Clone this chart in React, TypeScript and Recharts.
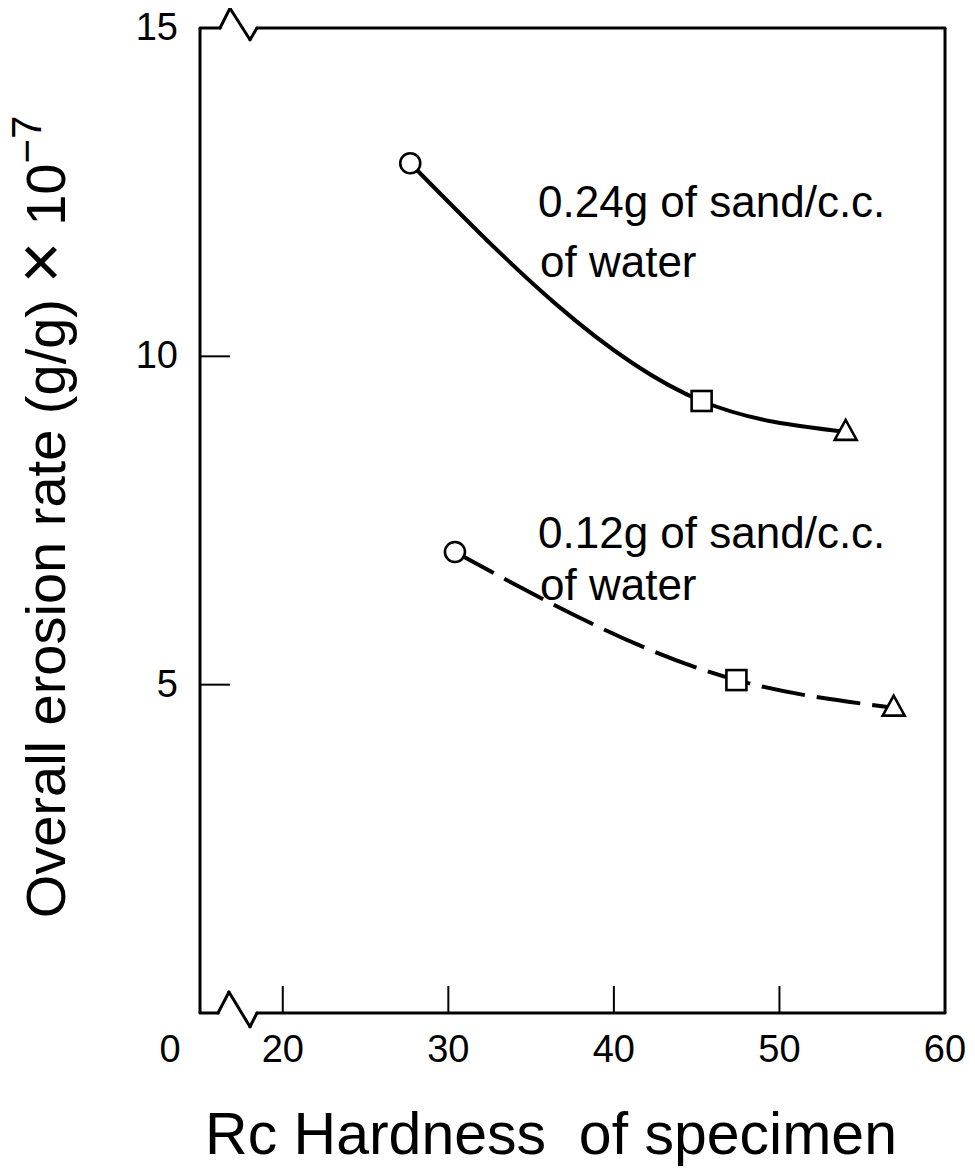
import React from 'react'
import { LineChart, Line, XAxis, YAxis, ReferenceLine } from 'recharts'

// Rc hardness vs overall erosion rate (x 10^-7 g/g)
const hardnessHigh = [27.7, 45.3, 54.0]
const rateHigh = [12.94, 9.32, 8.85]
const hardnessLow = [30.4, 47.4, 56.9]
const rateLow = [7.02, 5.07, 4.65]
const markerKinds = ['circle', 'square', 'triangle']

const xTicks = [15, 20, 30, 40, 50, 60]
const xTickLabels = ['0', '20', '30', '40', '50', '60']
const yTicks = [5, 10, 15]
const innerXTicks = [20, 30, 40, 50]
const innerYTicks = [5, 10]

const highData = hardnessHigh.map((h, i) => ({ hardness: h, rate: rateHigh[i] }))
const lowData = hardnessLow.map((h, i) => ({ hardness: h, rate: rateLow[i] }))

// axis break (zigzag) on top and bottom edges, in data units
const topEdge = [
    { x: 15, y: 15 }, { x: 16.21, y: 15 }, { x: 16.81, y: 15.3 },
    { x: 18.02, y: 14.82 }, { x: 18.44, y: 15 }, { x: 60, y: 15 },
]
const bottomEdge = [
    { x: 15, y: 0 }, { x: 16.09, y: 0 }, { x: 16.75, y: 0.32 },
    { x: 18.02, y: -0.21 }, { x: 18.44, y: 0 }, { x: 60, y: 0 },
]

const W = 960
const H = 1160
const FONT = '"Liberation Sans", Arial, Helvetica, sans-serif'

const renderMarker = (props: any) => {
    const { cx, cy, index } = props
    const kind = markerKinds[index]
    const common = { fill: '#fff', stroke: '#000', strokeWidth: 2.6 }
    if (kind === 'circle') return <circle key={`m-${index}`} cx={cx} cy={cy} r={10} {...common} />
    if (kind === 'square') return <rect key={`m-${index}`} x={cx - 10} y={cy - 10} width={20} height={20} {...common} />
    return (
        <polygon
            key={`m-${index}`}
            points={`${cx},${cy - 12} ${cx - 11},${cy + 8} ${cx + 11},${cy + 8}`}
            {...common}
        />
    )
}

const tickText = { fontSize: 38, fontFamily: FONT, fill: '#000' }

const BottomTick = ({ x, y, payload }: any) => {
    const v = payload.value
    const label = xTickLabels[xTicks.indexOf(v)]
    const broken = v === 15
    return (
        <g>
            {innerXTicks.includes(v) && <line x1={x} x2={x} y1={y} y2={y - 27} stroke="#000" strokeWidth={2} />}
            <text x={broken ? x - 30 : x} y={y + 49} textAnchor="middle" style={tickText}>
                {label}
            </text>
        </g>
    )
}

const TopTick = ({ x, y, payload }: any) =>
    innerXTicks.includes(payload.value)
        ? <line x1={x} x2={x} y1={y} y2={y + 28} stroke="#000" strokeWidth={2} />
        : <g />

const LeftTick = ({ x, y, payload }: any) => (
    <g>
        {innerYTicks.includes(payload.value) && <line x1={x} x2={x + 30} y1={y} y2={y} stroke="#000" strokeWidth={2} />}
        <text x={x - 22} y={y + 12} textAnchor="end" style={tickText}>
            {payload.value}
        </text>
    </g>
)

const RightTick = ({ x, y, payload }: any) =>
    innerYTicks.includes(payload.value)
        ? <line x1={x} x2={x - 30} y1={y} y2={y} stroke="#000" strokeWidth={2} />
        : <g />

const edgeSegments = (pts: { x: number; y: number }[], id: string) =>
    pts.slice(1).map((p, i) => (
        <ReferenceLine
            key={`${id}-${i}`}
            segment={[pts[i], p]}
            stroke="#000"
            strokeWidth={3}
            strokeLinecap="round"
            ifOverflow="visible"
        />
    ))

const App = () => {
    return (
        <div style={{ position: 'relative', width: W, height: H, background: '#fff' }}>
            <LineChart width={W} height={H} margin={{ top: 0, right: 0, bottom: 0, left: 0 }}>
                <XAxis
                    type="number"
                    dataKey="hardness"
                    domain={[15, 60]}
                    ticks={xTicks}
                    height={155}
                    axisLine={false}
                    tickLine={false}
                    tickSize={0}
                    tickMargin={0}
                    tick={<BottomTick />}
                    interval={0}
                />
                <XAxis
                    xAxisId="top"
                    orientation="top"
                    type="number"
                    dataKey="hardness"
                    domain={[15, 60]}
                    ticks={xTicks}
                    height={20}
                    axisLine={false}
                    tickLine={false}
                    tickSize={0}
                    tickMargin={0}
                    tick={<TopTick />}
                    interval={0}
                />
                <YAxis
                    type="number"
                    domain={[0, 15]}
                    ticks={yTicks}
                    width={192}
                    axisLine={{ stroke: '#000', strokeWidth: 3 }}
                    tickLine={false}
                    tickSize={0}
                    tickMargin={0}
                    tick={<LeftTick />}
                    interval={0}
                />
                <YAxis
                    yAxisId="right"
                    orientation="right"
                    type="number"
                    domain={[0, 15]}
                    ticks={yTicks}
                    width={23}
                    axisLine={{ stroke: '#000', strokeWidth: 3 }}
                    tickLine={false}
                    tickSize={0}
                    tickMargin={0}
                    tick={<RightTick />}
                    interval={0}
                />
                {edgeSegments(topEdge, 'top')}
                {edgeSegments(bottomEdge, 'bottom')}
                <Line
                    data={highData}
                    dataKey="rate"
                    type="monotone"
                    stroke="#000"
                    strokeWidth={4}
                    dot={renderMarker}
                    isAnimationActive={false}
                />
                <Line
                    data={lowData}
                    dataKey="rate"
                    type="monotone"
                    stroke="#000"
                    strokeWidth={4}
                    strokeDasharray="44 12"
                    dot={renderMarker}
                    isAnimationActive={false}
                />
            </LineChart>
            <svg
                width={W}
                height={H}
                style={{ position: 'absolute', left: 0, top: 0, pointerEvents: 'none' }}
                fontFamily={FONT}
                fill="#000"
            >
                <text fontSize={44} x={530} y={209}>0.24g of sand/c.c.</text>
                <text fontSize={44} x={532} y={269}>of water</text>
                <text fontSize={44} x={530} y={540}>0.12g of sand/c.c.</text>
                <text fontSize={44} x={532} y={592}>of water</text>
                <text transform="rotate(-90)" x={-509} y={57} textAnchor="middle" fontSize={56}>
                    Overall erosion rate (g/g) <tspan fontSize={72}>×</tspan> 10
                    <tspan dy={-24} fontSize={42}>−7</tspan>
                </text>
                <text x={543} y={1146} textAnchor="middle" fontSize={59} xmlSpace="preserve">
                    Rc Hardness  of specimen
                </text>
            </svg>
        </div>
    )
}

export default App
